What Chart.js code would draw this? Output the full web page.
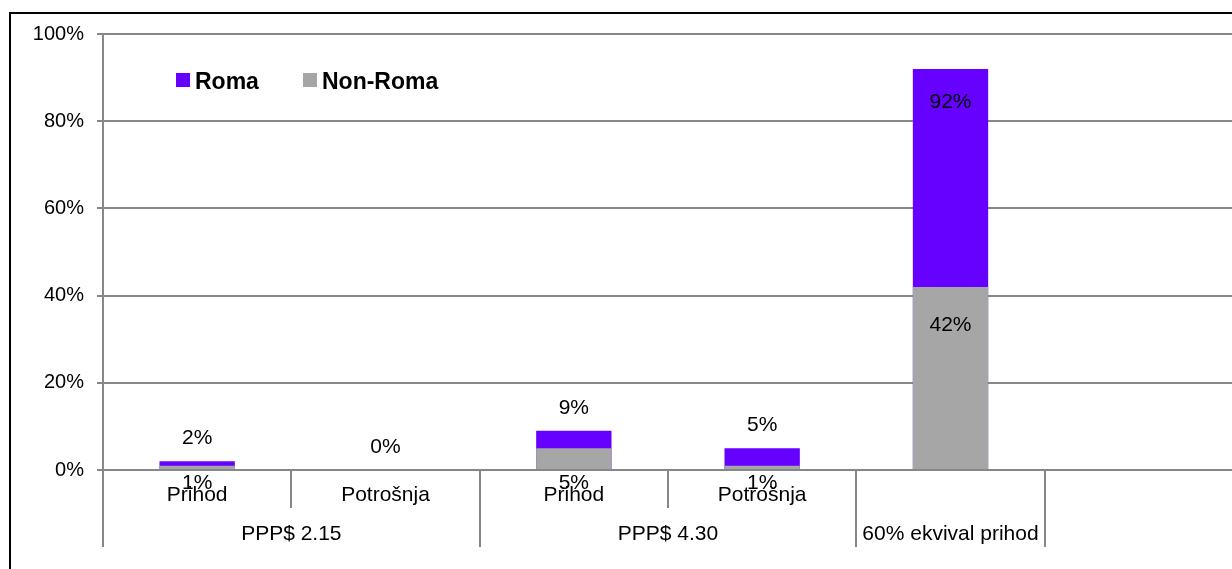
<!DOCTYPE html>
<html>
<head>
<meta charset="utf-8">
<script src="https://cdn.jsdelivr.net/npm/chart.js@4/dist/chart.umd.min.js"></script>
<style>
  html, body { margin: 0; padding: 0; background: #fff; overflow: hidden; width: 1232px; height: 569px; }
  #frame { position: absolute; left: 9px; top: 12px; width: 2000px; height: 2000px; border-left: 2px solid #000; border-top: 2px solid #000; pointer-events: none; }
  #c { position: absolute; left: 0; top: 0; }
</style>
</head>
<body>
<div id="frame"></div>
<canvas id="c" width="1250" height="569"></canvas>
<script>
// ---- data ----
const categories = ['Prihod', 'Potrošnja', 'Prihod', 'Potrošnja', '', ''];
const groupLabels = ['PPP$ 2.15', 'PPP$ 4.30', '60% ekvival prihod'];
const groupSpans = [2, 2, 1];
const romaValues = [2, 0, 9, 5, 92, null];
const nonRomaValues = [1, null, 5, 1, 42, null];
const yTicks = [0, 20, 40, 60, 80, 100];
const seriesNames = ['Roma', 'Non-Roma'];

const FONT = '"Liberation Sans", Arial, Helvetica, sans-serif';
const PURPLE = '#6600FF';
const GRAY = '#A6A6A6';
const LINE = '#878787';

const overlay = {
  id: 'overlay',
  afterDatasetsDraw(chart) {
    const ctx = chart.ctx;
    const x = chart.scales.x;
    const area = chart.chartArea;
    const n = categories.length;
    const cw = (x.right - x.left) / n;
    ctx.save();
    // data labels
    ctx.fillStyle = '#000';
    ctx.font = '21px ' + FONT;
    ctx.textAlign = 'center';
    ctx.textBaseline = 'middle';
    chart.data.datasets.forEach((ds, di) => {
      const meta = chart.getDatasetMeta(di);
      meta.data.forEach((el, i) => {
        const v = ds.data[i];
        if (v === null || v === undefined) return;
        let y;
        if (di === 0) {
          y = v > 50 ? el.y + 33 : el.y - 23;
        } else {
          y = Math.min(el.y + 38, el.base + 14);
        }
        ctx.fillText(v + '%', el.x, y);
      });
    });
    // category separators
    ctx.strokeStyle = LINE;
    ctx.lineWidth = 2;
    const groupStarts = [];
    let acc = 0;
    groupSpans.forEach(s => { groupStarts.push(acc); acc += s; });
    const groupBounds = new Set(groupStarts.concat([acc]));
    for (let i = 0; i <= acc; i++) {
      const px = Math.round(x.getPixelForValue(i) - cw / 2);
      const bottom = groupBounds.has(i) ? area.bottom + 77 : area.bottom + 38;
      ctx.beginPath();
      ctx.moveTo(px, area.bottom);
      ctx.lineTo(px, bottom);
      ctx.stroke();
    }
    // level-1 labels
    ctx.fillStyle = '#000';
    ctx.font = '21px ' + FONT;
    categories.forEach((c, i) => {
      if (c) ctx.fillText(c, x.getPixelForValue(i), area.bottom + 25);
    });
    // level-2 labels
    groupLabels.forEach((g, gi) => {
      const s = groupStarts[gi];
      const e = s + groupSpans[gi] - 1;
      const cx = (x.getPixelForValue(s) + x.getPixelForValue(e)) / 2;
      ctx.fillText(g, cx, area.bottom + 64);
    });
    // legend
    ctx.font = 'bold 23px ' + FONT;
    ctx.textAlign = 'left';
    ctx.textBaseline = 'alphabetic';
    const legendColors = [PURPLE, GRAY];
    const legendX = [176, 303];
    seriesNames.forEach((name, i) => {
      ctx.fillStyle = legendColors[i];
      ctx.fillRect(legendX[i], 73, 14, 14);
      ctx.fillStyle = '#000';
      ctx.fillText(name, legendX[i] + 19, 89);
    });
    ctx.restore();
  }
};

new Chart(document.getElementById('c'), {
  type: 'bar',
  data: {
    labels: categories,
    datasets: [
      { label: seriesNames[0], data: romaValues, backgroundColor: PURPLE, order: 1, borderWidth: 0 },
      { label: seriesNames[1], data: nonRomaValues, backgroundColor: GRAY, order: 0, borderWidth: 0 }
    ]
  },
  options: {
    responsive: false,
    animation: false,
    devicePixelRatio: 1,
    layout: { padding: { top: 34, right: 17, left: 0, bottom: 0 } },
    categoryPercentage: 0.4,
    barPercentage: 1.0,
    plugins: { legend: { display: false }, tooltip: { enabled: false } },
    scales: {
      x: {
        stacked: true,
        grid: { display: false },
        border: { display: false },
        ticks: { display: false },
        afterFit(scale) { scale.height = 99; }
      },
      y: {
        stacked: false,
        min: 0,
        max: 100,
        afterBuildTicks(scale) { scale.ticks = yTicks.map(v => ({ value: v })); },
        ticks: {
          color: '#000',
          font: { family: FONT, size: 20 },
          padding: 13,
          callback: v => v + '%'
        },
        grid: { color: LINE, lineWidth: 2, tickLength: 6, drawTicks: true },
        border: { display: true, color: LINE, width: 2 },
        afterFit(scale) { scale.width = 103; }
      }
    }
  },
  plugins: [overlay]
});
</script>
</body>
</html>
